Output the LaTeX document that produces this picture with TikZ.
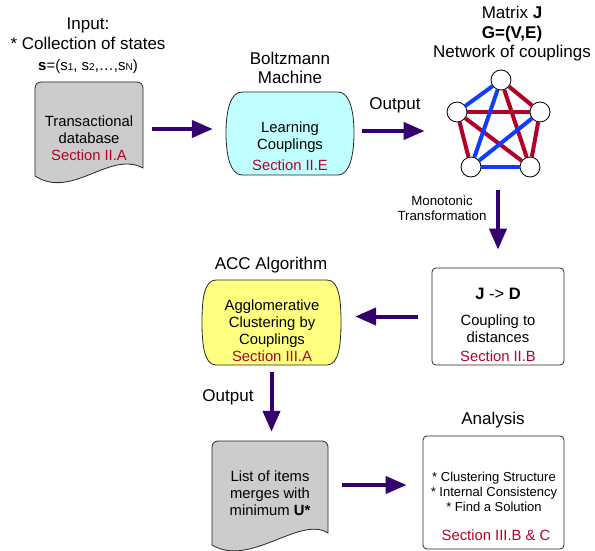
\documentclass[tikz,border=0pt]{standalone}
\usepackage{fontspec}
\setmainfont{Liberation Sans}
\usetikzlibrary{arrows.meta}

\definecolor{secred}{RGB}{180,0,40}
\definecolor{flowpurple}{RGB}{52,0,110}
\definecolor{jblue}{RGB}{15,60,255}
\definecolor{jred}{RGB}{175,0,40}
\definecolor{docgray}{RGB}{204,204,204}
\definecolor{bmcyan}{RGB}{192,255,255}
\definecolor{accyellow}{RGB}{255,255,128}

\begin{document}
\begin{tikzpicture}
[x=1pt,y=-1pt,
 title/.style={font=\fontsize{17}{19.5}\selectfont, align=center},
 txt/.style={font=\fontsize{14.8}{17}\selectfont, align=center},
 small/.style={font=\fontsize{13.3}{15}\selectfont, align=center},
 frame/.style={inner sep=0pt},
 outline/.style={draw=black!85, line width=.8pt},
 flow/.style={draw=flowpurple, line width=4pt, -{Triangle[length=21pt,width=17pt]}},
 vtx/.style={circle, draw, fill=white, minimum size=20pt, inner sep=0pt, line width=.8pt},
 posedge/.style={draw=jblue, line width=4pt},
 negedge/.style={draw=jred, line width=4pt}]
\useasboundingbox (0,0) rectangle (595,551);

% shapes
\draw[outline, fill=docgray] (35,176) [rounded corners=6pt] -- (35,82) -- (143,82) [sharp corners] -- (143,168)
  .. controls (110,150) and (72,200) .. (35,176) -- cycle;
\draw[outline, fill=bmcyan] (242,92) -- (338,92) .. controls (350,92) and (354,112) .. (354,133)
  .. controls (354,154) and (350,175) .. (338,175) -- (242,175) .. controls (230,175) and (226,154) .. (226,133)
  .. controls (226,112) and (230,92) .. (242,92) -- cycle;
\draw[outline, fill=accyellow] (216,280) -- (327,280) .. controls (339,280) and (341,300) .. (341,322)
  .. controls (341,344) and (339,365) .. (327,365) -- (216,365) .. controls (204,365) and (202,344) .. (202,322)
  .. controls (202,300) and (204,280) .. (216,280) -- cycle;
\draw[outline, fill=docgray] (212,545) [rounded corners=6pt] -- (212,441) -- (328,441) [sharp corners] -- (328,533)
  .. controls (300,515) and (250,568) .. (212,545) -- cycle;

\node[frame, minimum width=108pt, minimum height=94pt] (db) at (89,129) {};
\node[frame, minimum width=128pt, minimum height=83pt] (bm) at (290,133) {};
\node[frame, outline, rounded corners=4pt, minimum width=132pt, minimum height=97pt] (jd) at (498,316.5) {};
\node[frame, minimum width=139pt, minimum height=85pt] (acc) at (271.5,322.5) {};
\node[frame, minimum width=116pt, minimum height=92pt] (lst) at (270,487) {};
\node[frame, outline, rounded corners=4pt, minimum width=141pt, minimum height=113pt] (ana) at (493.5,492.5) {};

% texts
\node[title] (intitle) at (88,46) {Input:\\* Collection of states\\[2pt]{\fontsize{15}{16}\selectfont\textbf{s}=(s{\fontsize{10}{10}\selectfont 1}, s{\fontsize{10}{10}\selectfont 2},\ldots,s{\fontsize{10}{10}\selectfont N})}};
\node[txt] (dbtext) at (89,138) {Transactional\\database\\\textcolor{secred}{Section II.A}};
\node[title] (bmtitle) at (290,68) {Boltzmann\\Machine};
\node[txt] (bmtext) at (290,146) {Learning\\Couplings\\[4pt]\textcolor{secred}{Section II.E}};
\node[title] (out1) at (395,105) {Output};
\node[title] (nettitle) at (512,34) {Matrix \textbf{J}\\\textbf{G=(V,E)}\\Network of couplings};
\node[small] (mono) at (442,208) {Monotonic\\Transformation};
\node[txt] (jdtext) at (498,325) {{\fontsize{16.5}{18}\selectfont\textbf{J} -> \textbf{D}}\\[9pt]Coupling to\\distances\\[2pt]\textcolor{secred}{Section II.B}};
\node[title] (acctitle) at (271,265) {ACC Algorithm};
\node[txt] (acctext) at (272,331) {Agglomerative\\Clustering by\\Couplings\\\textcolor{secred}{Section III.A}};
\node[title] (out2) at (228,397) {Output};
\node[txt] (lsttext) at (270,493) {List of items\\merges with\\minimum \textbf{U*}};
\node[title] (anatitle) at (493,420) {Analysis};
\node[small, font=\fontsize{13}{15}\selectfont] (anatext) at (494,492) {* Clustering Structure\\* Internal Consistency\\* Find a Solution};
\node[txt] (anasec) at (496,535) {\textcolor{secred}{Section III.B \& C}};

% network of couplings
\node[vtx] (vt) at (501,80) {};
\node[vtx] (vl) at (457,112) {};
\node[vtx] (vr) at (540,112) {};
\node[vtx] (vbl) at (471,167) {};
\node[vtx] (vbr) at (530,167) {};
\foreach \from/\to in {vt/vr,vt/vbr,vl/vr,vl/vbl,vl/vbr,vr/vbr}
\draw[negedge] (\from) -- (\to);
\foreach \from/\to in {vt/vl,vt/vbl,vr/vbl,vbl/vbr}
\draw[posedge] (\from) -- (\to);

% flow
\draw[flow] ([xshift=9pt]db.east) -- ([xshift=-13pt]db.east -| bm.west);
\draw[flow] ([xshift=8pt,yshift=2pt]bm.east) -- ([xshift=-22pt,yshift=2pt]bm.east -| vl.west);
\draw[flow] ([yshift=78pt]jd.north) -- ([yshift=18pt]jd.north);
\draw[flow] ([xshift=-14pt]jd.west) -- ([xshift=14pt]jd.west -| acc.east);
\draw[flow] ([yshift=-7pt]acc.south) -- ([yshift=9pt]acc.south |- lst.north);
\draw[flow] ([xshift=14pt,yshift=2pt]lst.east) -- ([xshift=-16pt,yshift=2pt]lst.east -| ana.west);
\end{tikzpicture}
\end{document}
